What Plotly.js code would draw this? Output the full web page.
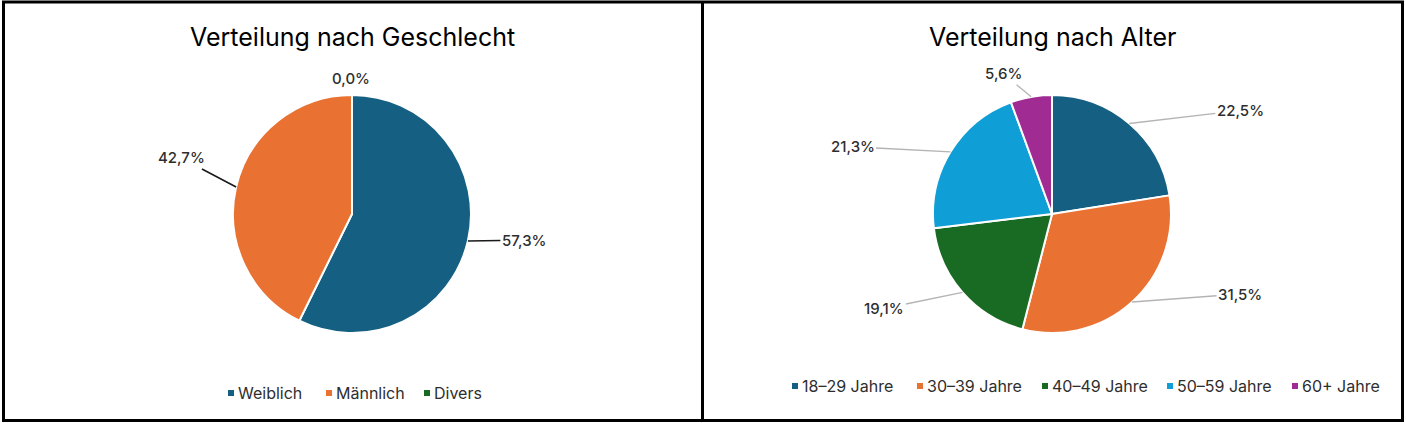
<!DOCTYPE html>
<html><head><meta charset="utf-8">
<script src="https://cdn.plot.ly/plotly-3.0.1.min.js"></script>
<style>
html,body{margin:0;padding:0;background:#fff;}
#chart{width:1406px;height:423px;}
path.legendpie{transform:translate(33px,0px) scale(0.6);}
</style></head><body><div id="chart"></div>
<script>
const genderLabels = ['Weiblich', 'Männlich', 'Divers'];
const genderValues = [57.3, 42.7, 0.0];
const ageLabels = ['18–29 Jahre', '30–39 Jahre', '40–49 Jahre', '50–59 Jahre', '60+ Jahre'];
const ageValues = [22.5, 31.5, 19.1, 21.3, 5.6];
const genderColors = ['#156082', '#E97132', '#196B24'];
const ageColors = ['#156082', '#E97132', '#196B24', '#0F9ED5', '#A02B93'];
const titleLeft = 'Verteilung nach Geschlecht';
const titleRight = 'Verteilung nach Alter';

const W = 1406, H = 423;
const FONT = 'Inter, "Open Sans", sans-serif';

// pie geometry (pixels)
const pieL = {cx: 352, cy: 214, r: 119};
const pieR = {cx: 1052, cy: 214, r: 119};
function domainOf(p) {
  return {x: [(p.cx - p.r) / W, (p.cx + p.r) / W], y: [1 - (p.cy + p.r) / H, 1 - (p.cy - p.r) / H]};
}

// label placement offsets (px) from each slice's outer midpoint
const genderLabelOffsets = [[56, -1], [-55, -29], [-1, -17]];
const ageLabelOffsets = [[111, -13], [108, -8], [-78, 16], [-98, -5], [-28, -23]];

function fmt(v) { return v.toFixed(1).replace('.', ',') + '%'; }
function labelAnns(values, p, offsets, lineColor, lineWidth) {
  const total = values.reduce((a, b) => a + b, 0);
  let cum = 0; const out = [];
  values.forEach((v, i) => {
    const mid = (cum + v / 2) / total * 2 * Math.PI; cum += v;
    const ex = p.cx + p.r * Math.sin(mid), ey = p.cy - p.r * Math.cos(mid);
    const [dx, dy] = offsets[i];
    const longLine = Math.hypot(dx, dy) > 25;
    out.push({xref: 'paper', yref: 'paper', x: ex / W, y: 1 - ey / H, ax: dx, ay: dy,
      text: fmt(v), showarrow: true, arrowhead: 0, arrowwidth: lineWidth,
      arrowcolor: longLine ? lineColor : 'rgba(0,0,0,0)', standoff: 0,
      font: {family: FONT, size: 15, color: '#2e2e2e', weight: 500}});
  });
  return out;
}

const traces = [
  {type: 'pie', labels: genderLabels, values: genderValues, sort: false, direction: 'clockwise', rotation: 0,
   marker: {colors: genderColors, line: {color: '#ffffff', width: 2}}, textinfo: 'none',
   domain: domainOf(pieL), legend: 'legend', hoverinfo: 'label+percent'},
  {type: 'pie', labels: ageLabels, values: ageValues, sort: false, direction: 'clockwise', rotation: 0,
   marker: {colors: ageColors, line: {color: '#ffffff', width: 2}}, textinfo: 'none',
   domain: domainOf(pieR), legend: 'legend2', hoverinfo: 'label+percent'}
];

const annotations = [
  {xref: 'paper', yref: 'paper', x: 352 / W, y: 1 - 37 / H, xanchor: 'center', yanchor: 'middle', showarrow: false,
   text: titleLeft, font: {family: FONT, size: 25, color: '#000000'}},
  {xref: 'paper', yref: 'paper', x: 1052 / W, y: 1 - 37 / H, xanchor: 'center', yanchor: 'middle', showarrow: false,
   text: titleRight, font: {family: FONT, size: 25, color: '#000000'}}
].concat(labelAnns(genderValues, pieL, genderLabelOffsets, '#1a1a1a', 1.6))
 .concat(labelAnns(ageValues, pieR, ageLabelOffsets, '#b4b4b4', 1.3));

const layout = {
  width: W, height: H, margin: {l: 0, r: 0, t: 0, b: 0},
  paper_bgcolor: '#ffffff', plot_bgcolor: '#ffffff',
  showlegend: true,
  legend: {orientation: 'h', x: 198 / W, xanchor: 'left', y: 1 - 393 / H, yanchor: 'middle',
    font: {family: FONT, size: 16, color: '#2e2e2e'}, entrywidth: 53, bgcolor: 'rgba(0,0,0,0)'},
  legend2: {orientation: 'h', x: 762 / W, xanchor: 'left', y: 1 - 386 / H, yanchor: 'middle',
    font: {family: FONT, size: 16, color: '#2e2e2e'}, entrywidth: 80, bgcolor: 'rgba(0,0,0,0)'},
  annotations: annotations,
  shapes: [
    {type: 'rect', xref: 'paper', yref: 'paper', x0: 3.5 / W, x1: 1402.5 / W, y0: 1 - 420.5 / H, y1: 1 - 2 / H,
     line: {color: '#000000', width: 3}},
    {type: 'line', xref: 'paper', yref: 'paper', x0: 702.5 / W, x1: 702.5 / W, y0: 1 - 420.5 / H, y1: 1 - 2 / H,
     line: {color: '#000000', width: 3}}
  ]
};

Plotly.newPlot('chart', traces, layout, {displayModeBar: false, staticPlot: true});
</script></body></html>
